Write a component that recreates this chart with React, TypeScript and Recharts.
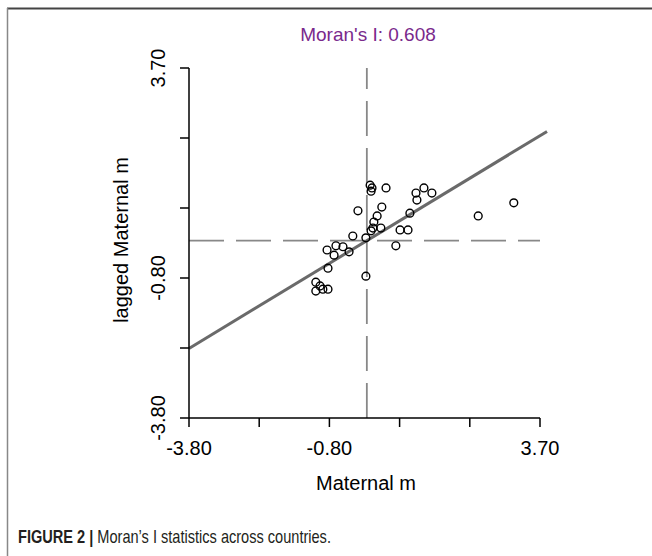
import React from "react";
import { ScatterChart, Scatter, XAxis, YAxis, ReferenceLine } from "recharts";

// values
const maternalM = [0.07, 0.11, 0.09, 0.41, -0.19, 0.32, 0.22, 0.15, 0.13, 0.3, -0.3, -0.02, 0.09, 1.05, 1.22, 1.39, 1.07, 0.92, 0.71, 0.88, 0.62, -0.85, -0.66, -0.51, -0.38, -0.7, -0.83, -0.02, -1.09, -1.0, -0.94, -0.83, -1.09, 2.38, 3.14];
const laggedM = [1.19, 1.13, 1.06, 1.13, 0.64, 0.72, 0.53, 0.4, 0.27, 0.27, 0.1, 0.06, 0.21, 1.02, 1.13, 1.02, 0.87, 0.59, 0.23, 0.23, -0.11, -0.2, -0.11, -0.13, -0.24, -0.31, -0.59, -0.76, -0.89, -0.97, -1.04, -1.04, -1.08, 0.53, 0.81];

const axisTicks = [-3.8, -2.3, -0.8, 0.7, 2.2, 3.7];
const labelledTicks = [-3.8, -0.8, 3.7];
const moranI = 0.608;
const fitEnds = [-3.8, 3.85];

const points = maternalM.map((x, i) => ({ x, y: laggedM[i] }));

const FONT = '"Liberation Sans", Arial, sans-serif';

function XTick(props: any) {
  const v = props.payload.value;
  if (!labelledTicks.some((t) => Math.abs(t - v) < 1e-6)) return null;
  return (
    <text x={props.x} y={props.y + 28} textAnchor="middle" fontSize={20} fontFamily={FONT} fill="#000">
      {v.toFixed(2)}
    </text>
  );
}

function YTick(props: any) {
  const v = props.payload.value;
  if (!labelledTicks.some((t) => Math.abs(t - v) < 1e-6)) return null;
  const x = props.x - 15;
  return (
    <text x={x} y={props.y} transform={`rotate(-90, ${x}, ${props.y})`} textAnchor="middle" fontSize={20} fontFamily={FONT} fill="#000">
      {v.toFixed(2)}
    </text>
  );
}

function Ring(props: any) {
  return <circle cx={props.cx} cy={props.cy} r={3.9} fill="none" stroke="#000" strokeWidth={1.4} />;
}

export default function App() {
  return (
    <div style={{ position: "absolute", left: 0, top: 0, width: 652, height: 556, background: "#fff" }}>
      <ScatterChart width={652} height={556} margin={{ top: 68, right: 112, left: 129, bottom: 58 }}>
        <XAxis
          type="number"
          dataKey="x"
          domain={[-3.8, 3.7]}
          ticks={axisTicks}
          interval={0}
          height={80}
          tickSize={9}
          tickMargin={0}
          stroke="#000"
          strokeWidth={1.5}
          tick={<XTick />}
        />
        <YAxis
          type="number"
          dataKey="y"
          domain={[-3.8, 3.7]}
          ticks={axisTicks}
          interval={0}
          width={60}
          tickSize={9}
          tickMargin={0}
          stroke="#000"
          strokeWidth={1.5}
          tick={<YTick />}
        />
        <ReferenceLine x={0} stroke="#888" strokeWidth={1.8} strokeDasharray="35 12" />
        <ReferenceLine y={0} stroke="#888" strokeWidth={1.8} strokeDasharray="35 12" />
        <Scatter data={points} shape={<Ring />} isAnimationActive={false} />
        <ReferenceLine
          segment={[
            { x: fitEnds[0], y: fitEnds[0] * moranI },
            { x: fitEnds[1], y: fitEnds[1] * moranI },
          ]}
          ifOverflow="visible"
          stroke="#6a6a6a"
          strokeWidth={3}
        />
      </ScatterChart>
      <svg width={652} height={556} style={{ position: "absolute", left: 0, top: 0, pointerEvents: "none" }}>
        <line x1={7} y1={8.5} x2={652} y2={8.5} stroke="#444" strokeWidth={2} />
        <line x1={7.5} y1={8} x2={7.5} y2={556} stroke="#888" strokeWidth={1.5} />
        <text x={368} y={41} textAnchor="middle" fontSize={19} fontFamily={FONT} fill="#7a2a8c">
          Moran's I: 0.608
        </text>
        <text x={366} y={490} textAnchor="middle" fontSize={20} fontFamily={FONT} fill="#000">
          Maternal m
        </text>
        <text x={128} y={240} transform="rotate(-90, 128, 240)" textAnchor="middle" fontSize={20} fontFamily={FONT} fill="#000">
          lagged Maternal m
        </text>
        <text transform="translate(18, 543) scale(0.81, 1)" fontSize={18} fontFamily={FONT} fill="#231f20">
          <tspan fontWeight="bold">FIGURE 2 | </tspan>
          <tspan>Moran’s I statistics across countries.</tspan>
        </text>
      </svg>
    </div>
  );
}
